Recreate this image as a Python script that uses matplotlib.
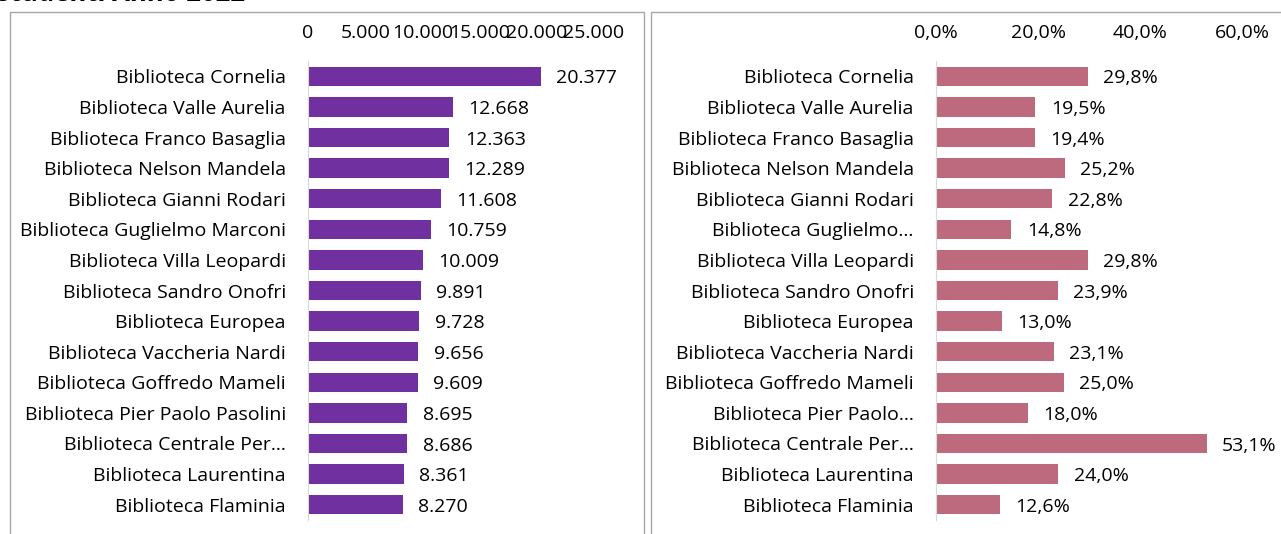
import matplotlib
matplotlib.use("Agg")
import matplotlib.pyplot as plt
from matplotlib.patches import Rectangle

plt.rcParams['font.family'] = ['Open Sans', 'DejaVu Sans']

# Data
biblioteche = ["Biblioteca Cornelia", "Biblioteca Valle Aurelia", "Biblioteca Franco Basaglia",
               "Biblioteca Nelson Mandela", "Biblioteca Gianni Rodari", "Biblioteca Guglielmo Marconi",
               "Biblioteca Villa Leopardi", "Biblioteca Sandro Onofri", "Biblioteca Europea",
               "Biblioteca Vaccheria Nardi", "Biblioteca Goffredo Mameli", "Biblioteca Pier Paolo Pasolini",
               "Biblioteca Centrale Per\u2026", "Biblioteca Laurentina", "Biblioteca Flaminia"]
biblioteche_dx = ["Biblioteca Cornelia", "Biblioteca Valle Aurelia", "Biblioteca Franco Basaglia",
                  "Biblioteca Nelson Mandela", "Biblioteca Gianni Rodari", "Biblioteca Guglielmo\u2026",
                  "Biblioteca Villa Leopardi", "Biblioteca Sandro Onofri", "Biblioteca Europea",
                  "Biblioteca Vaccheria Nardi", "Biblioteca Goffredo Mameli", "Biblioteca Pier Paolo\u2026",
                  "Biblioteca Centrale Per\u2026", "Biblioteca Laurentina", "Biblioteca Flaminia"]
studenti = [20377, 12668, 12363, 12289, 11608, 10759, 10009, 9891, 9728, 9656, 9609, 8695, 8686, 8361, 8270]
percentuale = [29.8, 19.5, 19.4, 25.2, 22.8, 14.8, 29.8, 23.9, 13.0, 23.1, 25.0, 18.0, 53.1, 24.0, 12.6]
ticks_sx = [0, 5000, 10000, 15000, 20000, 25000]
ticks_dx = [0, 20, 40, 60]

W, H = 1281, 534
FS = 14
fig = plt.figure(figsize=(W / 100, H / 100), dpi=100)

# panel borders
fig.patches.append(Rectangle((10 / W, -0.1), 634 / W, 1.1 - 12 / H, transform=fig.transFigure,
                             fill=False, edgecolor='#A6A6A6', linewidth=1))
fig.patches.append(Rectangle((651 / W, -0.1), 700 / W, 1.1 - 12 / H, transform=fig.transFigure,
                             fill=False, edgecolor='#A6A6A6', linewidth=1))

# cut-off title (only its lower part shows)
fig.text(-3 / W, 1 - 1 / H, "studenti Anno 2022", fontsize=18.5, fontweight='bold',
         va='baseline', ha='left', color='#000000')

ax_top, ax_bot = 61, 520
ax1 = fig.add_axes([308 / W, 1 - ax_bot / H, 286 / W, (ax_bot - ax_top) / H])
ax2 = fig.add_axes([936 / W, 1 - ax_bot / H, 306 / W, (ax_bot - ax_top) / H])

def style(ax):
    for s in ['top', 'right', 'bottom']:
        ax.spines[s].set_visible(False)
    ax.spines['left'].set_color('#D9D9D9')
    ax.xaxis.tick_top()
    ax.tick_params(axis='x', length=0, pad=14, labelsize=FS)
    ax.tick_params(axis='y', length=0, pad=16, labelsize=FS)
    ax.set_ylim(14.5, -0.5)
    ax.patch.set_alpha(0)

def value_labels(ax, vals, texts):
    for i, (v, t) in enumerate(zip(vals, texts)):
        ax.annotate(t, (v, i), xytext=(11, -1.5), textcoords='offset points',
                    ha='left', va='center', fontsize=FS, annotation_clip=False)

y = list(range(len(biblioteche)))

ax1.barh(y, studenti, height=0.63, color='#7030A0')
ax1.set_xlim(0, 25000)
ax1.set_xticks(ticks_sx)
ax1.set_xticklabels([f"{t:,}".replace(",", ".") for t in ticks_sx])
ax1.set_yticks(y)
ax1.set_yticklabels(biblioteche)
style(ax1)
value_labels(ax1, studenti, [f"{v:,}".replace(",", ".") for v in studenti])

ax2.barh(y, percentuale, height=0.63, color='#BE6A7E')
ax2.set_xlim(0, 60)
ax2.set_xticks(ticks_dx)
ax2.set_xticklabels([f"{t:.1f}%".replace(".", ",") for t in ticks_dx])
ax2.set_yticks(y)
ax2.set_yticklabels(biblioteche_dx)
style(ax2)
value_labels(ax2, percentuale, [f"{v:.1f}%".replace(".", ",") for v in percentuale])

fig.savefig("out.png", dpi=100)
